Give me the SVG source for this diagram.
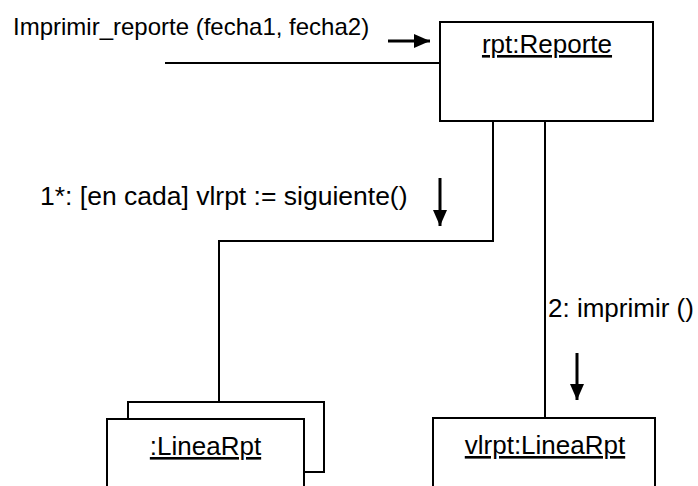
<svg xmlns="http://www.w3.org/2000/svg" width="698" height="486" viewBox="0 0 698 486">
  <style>
    .box { fill: #ffffff; stroke: #000000; stroke-width: 2; }
    .link { fill: none; stroke: #000000; stroke-width: 2; }
    .shaft { fill: none; stroke: #000000; stroke-width: 3; }
    .txt { font-family: "Liberation Sans", Arial, sans-serif; font-size: 26px; fill: #000000; }
    .obj { text-anchor: middle; text-decoration: underline; }
  </style>
  <defs>
    <marker id="head" viewBox="0 0 16 14" refX="16" refY="7" markerWidth="16" markerHeight="14" markerUnits="userSpaceOnUse" orient="auto">
      <path d="M0,0 L16,7 L0,14 Z" fill="#000000"/>
    </marker>
  </defs>

  <!-- connectors -->
  <g id="connectors">
    <path class="link" d="M165,63 H440"/>
    <path class="link" d="M493,121 V241 H219 V402"/>
    <path class="link" d="M545,121 V418"/>
  </g>

  <!-- message labels and direction arrows -->
  <g id="messages">
    <text class="txt" x="13" y="35" style="font-size:24px">Imprimir_reporte (fecha1, fecha2)</text>
    <path class="shaft" d="M388,41 H430" marker-end="url(#head)"/>
    <text class="txt" x="40" y="205" style="font-size:26.5px">1*: [en cada] vlrpt := siguiente()</text>
    <path class="shaft" d="M440,178 V226" marker-end="url(#head)"/>
    <text class="txt" x="548" y="317">2: imprimir ()</text>
    <path class="shaft" d="M577,353 V400" marker-end="url(#head)"/>
  </g>

  <g id="rpt-reporte">
    <rect class="box" x="440" y="22" width="213" height="99"/>
    <text class="txt obj" x="547" y="53">rpt:Reporte</text>
  </g>

  <g id="linearpt-multi">
    <rect class="box" x="128" y="402" width="196" height="70"/>
    <rect class="box" x="107" y="419" width="197" height="80"/>
    <text class="txt obj" x="205.5" y="455">:LineaRpt</text>
  </g>

  <g id="vlrpt-linearpt">
    <rect class="box" x="433" y="418" width="222" height="80"/>
    <text class="txt obj" x="545" y="454">vlrpt:LineaRpt</text>
  </g>
</svg>
